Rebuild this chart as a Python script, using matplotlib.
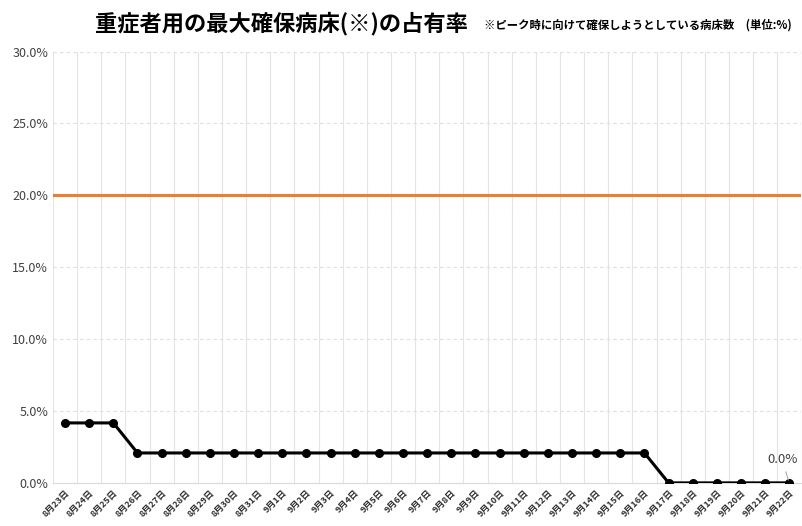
import matplotlib
matplotlib.use("Agg")
import matplotlib.pyplot as plt
import numpy as np

plt.rcParams['font.family'] = ['Noto Sans CJK JP', 'DejaVu Sans']

# データ
dates = ["8月23日", "8月24日", "8月25日", "8月26日", "8月27日", "8月28日", "8月29日",
         "8月30日", "8月31日", "9月1日", "9月2日", "9月3日", "9月4日", "9月5日",
         "9月6日", "9月7日", "9月8日", "9月9日", "9月10日", "9月11日", "9月12日",
         "9月13日", "9月14日", "9月15日", "9月16日", "9月17日", "9月18日", "9月19日",
         "9月20日", "9月21日", "9月22日"]
occupancy = [4.17, 4.17, 4.17] + [2.08] * 22 + [0.0] * 6
threshold = 20.0
yticks = [0, 5, 10, 15, 20, 25, 30]

fig = plt.figure(figsize=(8.03, 5.26), dpi=100)
ax = fig.add_axes([0.066, 0.082, 0.932, 0.82])

x = np.arange(len(dates))
ax.axhline(threshold, color='#ED7D31', linewidth=2.2, zorder=2)
ax.plot(x, occupancy, color='black', linewidth=2.2, marker='o', markersize=5.5, zorder=3)

# 最後の値のラベル
ax.annotate(f"{occupancy[-1]:.1f}%", xy=(x[-1], occupancy[-1]),
            xytext=(x[-1] - 0.3, occupancy[-1] + 1.6), ha='center', va='center',
            fontsize=9.5, color='#404040',
            arrowprops=dict(arrowstyle='-', color='#a0a0a0', lw=0.7))

ax.set_xlim(-0.5, len(dates) - 0.5)
ax.set_ylim(0, 30)
ax.set_yticks(yticks)
ax.set_yticklabels([f"{v:.1f}%" for v in yticks], fontsize=9, color='#404040')
ax.set_xticks(x)
ax.set_xticklabels(dates, rotation=45, ha='right', rotation_mode='anchor', fontsize=6.5,
                   color='#303030', fontweight='bold')
ax.set_xticks(np.arange(-0.5, len(dates)), minor=True)
ax.tick_params(axis='both', which='both', length=0)
ax.tick_params(axis='x', pad=4)

ax.grid(axis='x', which='minor', color='#e4e4e4', linewidth=0.8)
ax.grid(axis='y', which='major', color='#dddddd', linewidth=0.8, linestyle=(0, (3, 3)))
ax.set_axisbelow(True)
for s in ['top', 'right', 'left']:
    ax.spines[s].set_visible(False)
ax.spines['bottom'].set_color('#d9d9d9')

fig.text(0.118, 0.955, "重症者用の最大確保病床(※)の占有率", fontsize=16, fontweight='bold',
         va='center', ha='left')
fig.text(0.603, 0.952, "※ピーク時に向けて確保しようとしている病床数　(単位:%)", fontsize=8.2,
         fontweight='bold', va='center', ha='left')

fig.savefig("out.png", dpi=100)
